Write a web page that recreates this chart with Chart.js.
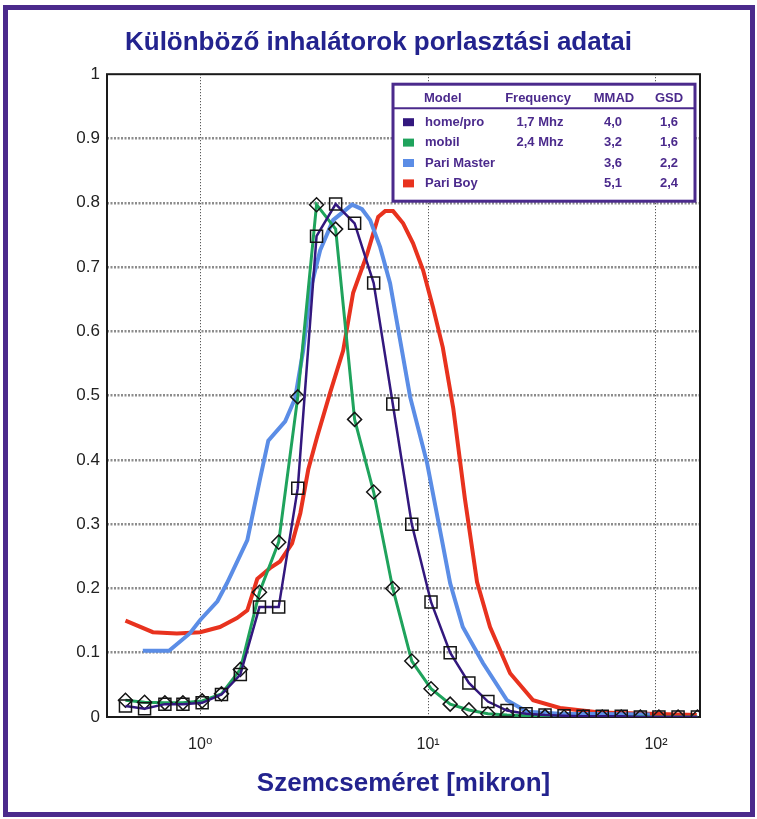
<!DOCTYPE html>
<html>
<head>
<meta charset="utf-8">
<script src="https://cdn.jsdelivr.net/npm/chart.js@4/dist/chart.umd.min.js"></script>
<style>
  body { margin: 0; background: #fff; }
</style>
</head>
<body>
<canvas id="chart" width="757" height="819"></canvas>
<script>
const sizes = [0.47, 0.57, 0.70, 0.84, 1.02, 1.24, 1.50, 1.82, 2.21, 2.68, 3.24, 3.93, 4.76, 5.77, 7.0, 8.48,
    10.3, 12.5, 15.1, 18.3, 22.2, 26.9, 32.6, 39.5, 47.9, 58.1, 70.4, 85.4, 103, 125, 152]
const homeVals = [0.017, 0.013, 0.02, 0.02, 0.022, 0.035, 0.066, 0.171, 0.171, 0.356, 0.748, 0.798, 0.768, 0.675,
    0.487, 0.30, 0.179, 0.10, 0.053, 0.024, 0.01, 0.005, 0.003, 0.002, 0.001, 0.001, 0.001, 0, 0, 0, 0]
const mobilVals = [0.026, 0.023, 0.022, 0.022, 0.025, 0.036, 0.074, 0.194, 0.272, 0.498, 0.797, 0.759, 0.463, 0.35,
    0.2, 0.087, 0.044, 0.02, 0.011, 0.005, 0.003, 0.002, 0.001, 0, 0, 0, 0, 0, 0, 0, 0]

// Pari Master and Pari Boy are plain lines with their own sampling
const masterSizes = [0.56, 0.73, 0.90, 1.0, 1.19, 1.31, 1.61, 1.83, 1.99, 2.36, 2.61, 2.83, 3.04, 3.36, 3.83,
    4.64, 5.13, 5.57, 6.16, 6.81, 8.34, 9.90, 11.5, 12.5, 14.2, 17.4, 22.2, 27.2, 37.9, 94]
const masterVals = [0.103, 0.103, 0.13, 0.151, 0.18, 0.208, 0.275, 0.37, 0.43, 0.46, 0.496, 0.57, 0.664, 0.726,
    0.773, 0.797, 0.79, 0.773, 0.731, 0.675, 0.498, 0.395, 0.275, 0.208, 0.14, 0.084, 0.026, 0.008, 0.005, 0.004]
const boySizes = [0.47, 0.62, 0.79, 1.0, 1.22, 1.45, 1.61, 1.78, 2.03, 2.24, 2.53, 2.75, 2.98, 3.26, 3.72, 4.24,
    4.69, 5.40, 6.04, 6.48, 7.02, 7.77, 8.59, 9.51, 10.5, 11.6, 12.9, 14.5, 16.4, 18.7, 22.9, 28.9, 37.9, 56.8, 151]
const boyVals = [0.15, 0.132, 0.13, 0.132, 0.14, 0.154, 0.166, 0.215, 0.232, 0.242, 0.27, 0.317, 0.385, 0.436,
    0.505, 0.57, 0.66, 0.72, 0.778, 0.787, 0.787, 0.768, 0.737, 0.695, 0.638, 0.575, 0.48, 0.34, 0.21, 0.14,
    0.068, 0.026, 0.014, 0.007, 0.003]

// legend table
const models = ['home/pro', 'mobil', 'Pari Master', 'Pari Boy']
const frequencies = ['1,7 Mhz', '2,4 Mhz', '', '']
const mmad = ['4,0', '3,2', '3,6', '5,1']
const gsd = ['1,6', '1,6', '2,2', '2,4']
const colors = ['#33187e', '#1fa35c', '#5b8de6', '#e8321e']

const xTicks = [1, 10, 100]
const xTickLabels = ['10⁰', '10¹', '10²']

const FONT = "'Liberation Sans', Arial, 'DejaVu Sans', sans-serif"
const PURPLE = '#4b2a8c'
const NAVY = '#23238e'

function points(xs, ys) {
    return xs.map((x, i) => ({ x: x, y: ys[i] }))
}

const pageFrame = {
    id: 'pageFrame',
    beforeDraw(chart) {
        const ctx = chart.ctx
        ctx.save()
        ctx.fillStyle = '#fff'
        ctx.fillRect(0, 0, chart.width, chart.height)
        ctx.strokeStyle = PURPLE
        ctx.lineWidth = 5
        ctx.strokeRect(5.5, 7.5, 747, 807)
        ctx.restore()
    },
    beforeDatasetsDraw(chart) {
        const { ctx, chartArea: a } = chart
        ctx.save()
        ctx.strokeStyle = '#1a1a1a'
        ctx.lineWidth = 2
        ctx.strokeRect(a.left, a.top, a.right - a.left, a.bottom - a.top)
        ctx.restore()
    },
}

const tableLegend = {
    id: 'tableLegend',
    afterDraw(chart) {
        const { ctx, chartArea: a } = chart
        const w = 302, h = 117
        const x0 = a.right - 307, y0 = a.top + 10
        ctx.save()
        ctx.fillStyle = '#fff'
        ctx.fillRect(x0, y0, w, h)
        ctx.strokeStyle = PURPLE
        ctx.lineWidth = 3
        ctx.strokeRect(x0, y0, w, h)
        ctx.lineWidth = 2
        ctx.beginPath()
        ctx.moveTo(x0, y0 + 24)
        ctx.lineTo(x0 + w, y0 + 24)
        ctx.stroke()

        ctx.font = 'bold 13px ' + FONT
        ctx.fillStyle = PURPLE
        ctx.textBaseline = 'middle'
        ctx.textAlign = 'left'
        ctx.fillText('Model', x0 + 31, y0 + 14)
        ctx.textAlign = 'center'
        ctx.fillText('Frequency', x0 + 145, y0 + 14)
        ctx.fillText('MMAD', x0 + 221, y0 + 14)
        ctx.fillText('GSD', x0 + 276, y0 + 14)

        models.forEach((m, i) => {
            const y = y0 + 38 + i * 20.4
            ctx.fillStyle = colors[i]
            ctx.fillRect(x0 + 10, y - 4, 11, 8)
            ctx.fillStyle = PURPLE
            ctx.textAlign = 'left'
            ctx.fillText(m, x0 + 32, y)
            ctx.textAlign = 'center'
            ctx.fillText(frequencies[i], x0 + 147, y)
            ctx.fillText(mmad[i], x0 + 220, y)
            ctx.fillText(gsd[i], x0 + 276, y)
        })
        ctx.restore()
    },
}

new Chart(document.getElementById('chart'), {
    type: 'scatter',
    data: {
        datasets: [
            {
                label: models[0],
                data: points(sizes, homeVals),
                showLine: true,
                borderColor: colors[0],
                borderWidth: 2.5,
                pointStyle: 'rect',
                pointRadius: 8.5,
                pointBorderColor: '#151515',
                pointBackgroundColor: 'rgba(0,0,0,0)',
                pointBorderWidth: 1.5,
            },
            {
                label: models[1],
                data: points(sizes, mobilVals),
                showLine: true,
                borderColor: colors[1],
                borderWidth: 3,
                pointStyle: 'rectRot',
                pointRadius: 7,
                pointBorderColor: '#151515',
                pointBackgroundColor: 'rgba(0,0,0,0)',
                pointBorderWidth: 1.5,
            },
            {
                label: models[2],
                data: points(masterSizes, masterVals),
                showLine: true,
                borderColor: colors[2],
                borderWidth: 4,
                pointRadius: 0,
            },
            {
                label: models[3],
                data: points(boySizes, boyVals),
                showLine: true,
                borderColor: colors[3],
                borderWidth: 4,
                pointRadius: 0,
            },
        ],
    },
    options: {
        responsive: false,
        animation: false,
        layout: { padding: 0 },
        scales: {
            x: {
                type: 'logarithmic',
                min: 0.39,
                max: 156,
                afterBuildTicks: (s) => { s.ticks = xTicks.map(v => ({ value: v })) },
                afterFit: (s) => { s.height = 102 },
                ticks: {
                    callback: (v) => xTickLabels[xTicks.indexOf(v)],
                    font: { family: FONT, size: 16 },
                    color: '#222',
                    padding: 18,
                    maxRotation: 0,
                    autoSkip: false,
                },
                grid: { color: '#333', lineWidth: 1, drawTicks: false },
                border: { display: false, dash: [1, 2] },
                title: {
                    display: true,
                    text: 'Szemcseméret [mikron]',
                    color: NAVY,
                    font: { family: FONT, size: 26, weight: 'bold' },
                    padding: { top: 0, bottom: 20 },
                },
            },
            y: {
                min: 0,
                max: 1,
                afterFit: (s) => { s.width = 107 },
                ticks: {
                    stepSize: 0.1,
                    callback: (v) => String(+v.toFixed(1)),
                    font: { family: FONT, size: 17 },
                    color: '#222',
                    padding: 7,
                },
                grid: {
                    color: (c) => (c.tick.value === 0 || c.tick.value === 1) ? 'rgba(0,0,0,0)' : '#8c8c8c',
                    lineWidth: 2.5,
                    drawTicks: false,
                },
                border: { display: false, dash: [2, 1.5] },
            },
            // empty right-hand axis, only reserves the margin right of the plot
            yRight: {
                position: 'right',
                min: 0,
                max: 1,
                afterFit: (s) => { s.width = 57 },
                ticks: { display: false },
                grid: { display: false },
                border: { display: false },
            },
        },
        plugins: {
            legend: { display: false },
            tooltip: { enabled: false },
            title: {
                display: true,
                text: 'Különböző inhalátorok porlasztási adatai',
                color: NAVY,
                font: { family: FONT, size: 26, weight: 'bold' },
                padding: { top: 27, bottom: 16 },
            },
        },
    },
    plugins: [pageFrame, tableLegend],
})
</script>
</body>
</html>
